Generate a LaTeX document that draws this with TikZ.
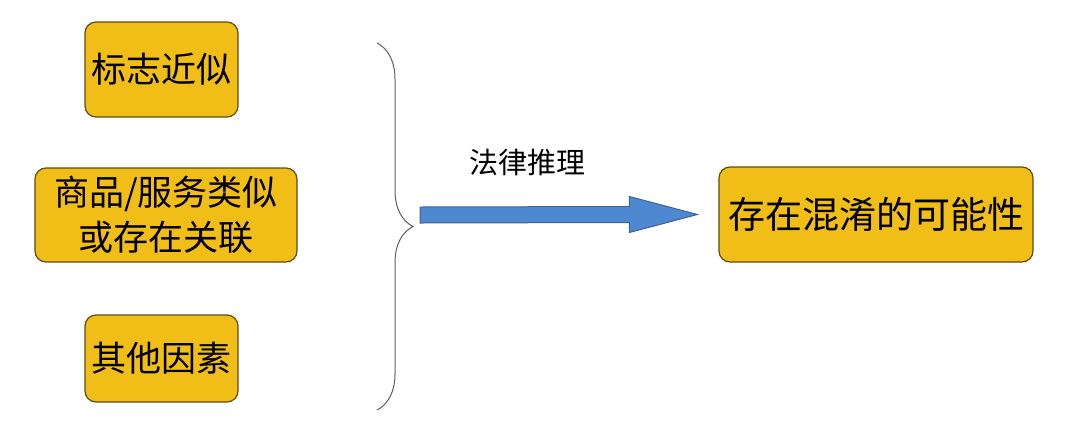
\documentclass[tikz,border=0pt]{standalone}
\usepackage{fontspec}
\setmainfont{Noto Sans CJK SC}
\usepackage{xcolor}
\usepackage{tikz}
\usetikzlibrary{positioning, calc, decorations.pathreplacing}
\definecolor{boxgold}{RGB}{240, 190, 22}
\definecolor{boxedge}{RGB}{95, 75, 20}
\definecolor{arrowblue}{RGB}{78, 136, 208}
\definecolor{arrowedge}{RGB}{60, 98, 150}
\definecolor{bracegray}{RGB}{95, 95, 95}
\tikzset{
    factor/.style={draw=boxedge, fill=boxgold, rounded corners=11pt, line width=1.2pt,
        align=center, inner sep=0pt, font=\fontsize{35}{45}\selectfont},
    result/.style={factor, font=\fontsize{37}{45}\selectfont}
}

\begin{document}
\begin{tikzpicture}[x=1pt, y=-1pt]
        \useasboundingbox (0,0) rectangle (1070,440);
        % factors on the left
        \node[factor, minimum width=153pt, minimum height=95pt] (sign) at (161.5,69.5) {标志近似};
        \node[factor, minimum width=262pt, minimum height=94pt] (goods) at (166,215) {商品/服务类似\\或存在关联};
        \node[factor, minimum width=153pt, minimum height=87pt] (other) at (161.5,358.5) {其他因素};
        % conclusion
        \node[result, minimum width=314pt, minimum height=95pt] (confuse) at (876,214.5) {存在混淆的可能性};
        % brace
        \coordinate (bracetop) at (377,43);
        \coordinate (bracebot) at (377,410);
        \draw[bracegray, line width=1pt, decorate, decoration={brace, amplitude=36pt}]
            (bracetop) -- (bracebot);
        % arrow
        \coordinate (from) at (420,215);
        \coordinate (to) at ($(confuse.west)+(-21,0)$);
        \draw[fill=arrowblue, draw=arrowedge, line width=1pt]
            ($(from)+(0,-8)$) -- ($(to)+(-68,-8)$) -- ($(to)+(-68,-18)$) -- (to)
            -- ($(to)+(-68,18)$) -- ($(to)+(-68,8)$) -- ($(from)+(0,8)$) -- cycle;
        \node[font=\fontsize{29}{36}\selectfont] (law) at (527,162) {法律推理};
    \end{tikzpicture}
\end{document}
